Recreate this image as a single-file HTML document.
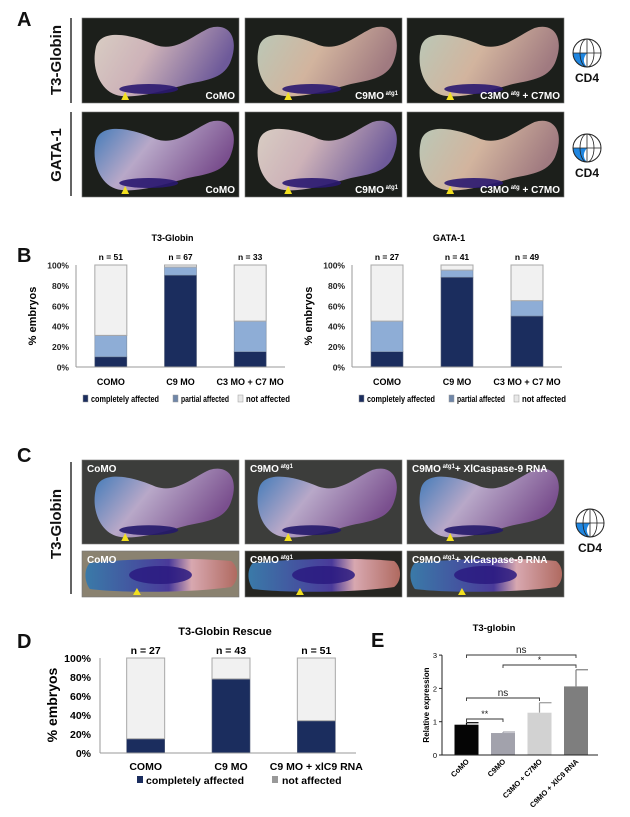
<!DOCTYPE html>
<html><head><meta charset="utf-8">
<style>
body{margin:0;background:#fff;}
svg{display:block;font-family:"Liberation Sans",Arial,sans-serif;}
</style></head>
<body>
<svg id="fig" width="630" height="817" viewBox="0 0 630 817" xmlns="http://www.w3.org/2000/svg">
<defs>
 <linearGradient id="embA" x1="0" y1="0" x2="1" y2="0.3">
  <stop offset="0" stop-color="#d9cfc4"/><stop offset="0.45" stop-color="#cdb2b8"/><stop offset="1" stop-color="#6e5a9a"/>
 </linearGradient>
 <linearGradient id="embB" x1="0" y1="0" x2="1" y2="0.3">
  <stop offset="0" stop-color="#b9c9b8"/><stop offset="0.5" stop-color="#d2b49e"/><stop offset="1" stop-color="#a07a80"/>
 </linearGradient>
 <linearGradient id="embC" x1="0" y1="0" x2="1" y2="0.4">
  <stop offset="0" stop-color="#3b78b8"/><stop offset="0.45" stop-color="#b8a8c8"/><stop offset="1" stop-color="#7a4f8e"/>
 </linearGradient>
 <linearGradient id="embD" x1="0" y1="0" x2="1" y2="0">
  <stop offset="0" stop-color="#3a7aa8"/><stop offset="0.55" stop-color="#4a3a9a"/><stop offset="0.7" stop-color="#d8a8b0"/><stop offset="1" stop-color="#b06a60"/>
 </linearGradient>
</defs>
<g id="panelA"></g>
<g id="panelB"></g>
<g id="panelC"></g>
<g id="panelD"></g>
<g id="panelE"></g>
</svg>
<script>
// ---- Panel B data ----
const bCategories = ["COMO", "C9 MO", "C3 MO + C7 MO"];
const bT3Complete = [10, 90, 15];
const bT3Partial = [21, 8, 30];
const bT3N = ["n = 51", "n = 67", "n = 33"];
const bGataComplete = [15, 88, 50];
const bGataPartial = [30, 7, 15];
const bGataN = ["n = 27", "n = 41", "n = 49"];
const pctTicks = ["0%", "20%", "40%", "60%", "80%", "100%"];
// ---- Panel D data ----
const dCategories = ["COMO", "C9 MO", "C9 MO + xlC9 RNA"];
const dComplete = [15, 78, 34];
const dN = ["n = 27", "n = 43", "n = 51"];
// ---- Panel E data ----
const eCategories = ["CoMO", "C9MO", "C3MO + C7MO", "C9MO + XlC9 RNA"];
const eValues = [0.91, 0.66, 1.27, 2.06];
const eErrors = [0.06, 0.03, 0.30, 0.50];
const eTicks = [0, 1, 2, 3];

const NS = "http://www.w3.org/2000/svg";
function mk(parent, tag, attrs, text){
  const e = document.createElementNS(NS, tag);
  for (const k in attrs) e.setAttribute(k, attrs[k]);
  if (text !== undefined) e.textContent = text;
  parent.appendChild(e);
  return e;
}
const A = document.getElementById('panelA');
const B = document.getElementById('panelB');
const C = document.getElementById('panelC');
const D = document.getElementById('panelD');
const E = document.getElementById('panelE');

function letter(g, x, y, t){
  const el = mk(g, 'text', {x:x, y:y, 'font-size':20, 'font-weight':'bold', fill:'#111'}, t);
  
  
}
function vlabel(g, x, y, t){
  const el = mk(g, 'text', {x:x, y:y, 'font-size':15, 'font-weight':'bold', fill:'#111', 'text-anchor':'middle', transform:'rotate(-90 '+x+' '+y+')'}, t);
  
  
}
function globe(g, cx, cy, r, ty){
  const gg = mk(g, 'g', {});
  
  
  mk(gg, 'path', {d:'M'+cx+','+cy+' L'+(cx-r)+','+cy+' A'+r+','+r+' 0 0,0 '+cx+','+(cy+r)+' Z', fill:'#1f86e0'});
  mk(gg, 'path', {d:'M'+cx+','+cy+' Q'+(cx-r*0.45)+','+(cy+r*0.55)+' '+cx+','+(cy+r)+' Z', fill:'#fff'});
  mk(gg, 'circle', {cx:cx, cy:cy, r:r, fill:'none', stroke:'#222', 'stroke-width':1});
  mk(gg, 'ellipse', {cx:cx, cy:cy, rx:r*0.5, ry:r, fill:'none', stroke:'#222', 'stroke-width':0.8});
  mk(gg, 'line', {x1:cx, y1:cy-r, x2:cx, y2:cy+r, stroke:'#222', 'stroke-width':0.8});
  mk(gg, 'line', {x1:cx-r, y1:cy, x2:cx+r, y2:cy, stroke:'#222', 'stroke-width':0.8});
  const t = mk(g, 'text', {x:cx, y:ty, 'font-size':12, 'font-weight':'bold', 'text-anchor':'middle', fill:'#111'}, 'CD4');
  
  
}
function photo(g, x, y, w, h, bg, grad, band, label, sup, tail, labelTop, flat){
  const pg = mk(g, 'g', {transform:'translate('+x+','+y+')'});
  
  
  mk(pg, 'rect', {x:0, y:0, width:w, height:h, fill:bg, stroke:'#777', 'stroke-width':0.6});
  const sx = w/160, sy = h/85;
  if (!flat){
    const eg = mk(pg, 'g', {transform:'scale('+sx+','+sy+')'});
    mk(eg, 'path', {d:'M14,30 C18,10 50,16 75,27 C96,34 112,18 130,10 C150,4 160,20 152,42 C146,60 128,62 108,66 C85,72 60,80 40,78 C20,76 9,52 14,30 Z', fill:'url(#'+grad+')'});
    mk(eg, 'ellipse', {cx:68, cy:71, rx:30, ry:5, fill:band, opacity:0.9});
    mk(eg, 'path', {d:'M40,82 L44,74 L48,82 Z', fill:'#f2e020'});
  } else {
    const eg = mk(pg, 'g', {transform:'scale('+sx+',1)'});
    mk(eg, 'path', {d:'M8,12 C40,8 110,6 152,10 C160,16 160,30 152,36 C110,42 40,42 8,38 C2,30 2,18 8,12 Z', fill:'url(#'+grad+')'});
    mk(eg, 'ellipse', {cx:80, cy:24, rx:32, ry:9, fill:band, opacity:0.85});
    mk(eg, 'path', {d:'M52,44 L56,37 L60,44 Z', fill:'#f2e020'});
  }
  const ty = labelTop ? 12 : h-4;
  const tx = labelTop ? 5 : w-4;
  const t = mk(pg, 'text', {x:tx, y:ty, 'font-size':10, 'font-weight':'bold', fill:'#fff', 'text-anchor': labelTop ? 'start' : 'end'});
  
  
  mk(t, 'tspan', {}, label);
  if (sup){ mk(t, 'tspan', {'font-size':6, dy:-4}, ' ' + sup); }
  if (tail){ mk(t, 'tspan', {dy: sup ? 4 : 0}, tail); }
}

// ---- Panel A ----
letter(A, 17, 26, 'A');
mk(A, 'line', {x1:71, y1:18, x2:71, y2:103, stroke:'#111', 'stroke-width':1.3});
mk(A, 'line', {x1:71, y1:112, x2:71, y2:196, stroke:'#111', 'stroke-width':1.3});
vlabel(A, 61, 60, 'T3-Globin');
vlabel(A, 61, 155, 'GATA-1');
const colX = [82, 245, 407];
photo(A, colX[0], 18, 157, 85, '#1c1f1b', 'embA', '#2a1870', 'CoMO');
photo(A, colX[1], 18, 157, 85, '#1c1f1b', 'embB', '#2a1870', 'C9MO', 'atg1');
photo(A, colX[2], 18, 157, 85, '#1c1f1b', 'embB', '#2a1870', 'C3MO', 'atg', ' + C7MO');
photo(A, colX[0], 112, 157, 85, '#1c1f1b', 'embC', '#2a1870', 'CoMO');
photo(A, colX[1], 112, 157, 85, '#1c1f1b', 'embA', '#2a1870', 'C9MO', 'atg1');
photo(A, colX[2], 112, 157, 85, '#1c1f1b', 'embB', '#2a1870', 'C3MO', 'atg', ' + C7MO');
globe(A, 587, 53, 14, 82);
globe(A, 587, 148, 14, 177);

// ---- Panel B ----
letter(B, 17, 262, 'B');
function stackChart(g, left, right, y0, y100, cats, comp, part, nLabels, title, name){
  const cg = mk(g, 'g', {});
  
  
  const yS = v => y0 - (y0 - y100) * v / 100;
  const band = (right - left) / cats.length;
  const xC = i => left + band * (i + 0.5);
  const bw = 32;
  const tt = mk(cg, 'text', {x:(left+right)/2 - 8, y:241, 'font-size':9, 'font-weight':'bold', 'text-anchor':'middle'}, title);
  
  
  pctTicks.forEach((t, i) => {
    const tl = mk(cg, 'text', {x:left-7, y:yS(i*20)+3.5, 'font-size':8.5, 'font-weight':'bold', 'text-anchor':'end', fill:'#222'}, t);
    
    
  });
  const yt = mk(cg, 'text', {x:left-40, y:(y0+y100)/2, 'font-size':11, 'font-weight':'bold', 'text-anchor':'middle', transform:'rotate(-90 '+(left-40)+' '+((y0+y100)/2)+')'}, '% embryos');
  
  
  cats.forEach((c, i) => {
    const x = xC(i) - bw/2;
    const r1 = mk(cg, 'rect', {x:x, y:yS(comp[i]), width:bw, height:y0 - yS(comp[i]), fill:'#1b2d5e', stroke:'#55607a', 'stroke-width':0.6});
    
    
    const r2 = mk(cg, 'rect', {x:x, y:yS(comp[i]+part[i]), width:bw, height:yS(comp[i]) - yS(comp[i]+part[i]), fill:'#8eadd6', stroke:'#7a8aa0', 'stroke-width':0.6});
    
    
    const r3 = mk(cg, 'rect', {x:x, y:yS(100), width:bw, height:yS(comp[i]+part[i]) - yS(100), fill:'#f1f1f1', stroke:'#a8a8a8', 'stroke-width':1});
    
    
    const nl = mk(cg, 'text', {x:xC(i), y:y100-5, 'font-size':8.5, 'font-weight':'bold', 'text-anchor':'middle'}, nLabels[i]);
    
    
    const cl = mk(cg, 'text', {x:xC(i), y:y0+18, 'font-size':9, 'font-weight':'bold', 'text-anchor':'middle'}, c);
    
    
  });
  mk(cg, 'line', {x1:left, y1:y100, x2:left, y2:y0, stroke:'#999', 'stroke-width':1});
  mk(cg, 'line', {x1:left, y1:y0, x2:right, y2:y0, stroke:'#999', 'stroke-width':1});
  const lg = mk(cg, 'g', {});
  
  
  const items = [['completely affected', '#1b2d5e', 7, 68], ['partial affected', '#6f86a8', 97, 48], ['not affected', '#e8e8e8', 162, 44]];
  items.forEach(it => {
    mk(lg, 'rect', {x:left+it[2], y:y0+28, width:5, height:7, fill:it[1], stroke:'#999', 'stroke-width':0.5});
    const lt = mk(lg, 'text', {x:left+it[2]+8, y:y0+35, 'font-size':9.5, 'font-weight':'bold', textLength:it[3], lengthAdjust:'spacingAndGlyphs'}, it[0]);
    
    
  });
}
stackChart(B, 76, 285, 367, 265, bCategories, bT3Complete, bT3Partial, bT3N, 'T3-Globin', 'chart-b-t3-globin');
stackChart(B, 352, 562, 367, 265, bCategories, bGataComplete, bGataPartial, bGataN, 'GATA-1', 'chart-b-gata-1');

// ---- Panel C ----
letter(C, 17, 462, 'C');
mk(C, 'line', {x1:71, y1:462, x2:71, y2:594, stroke:'#111', 'stroke-width':1.3});
vlabel(C, 61, 524, 'T3-Globin');
photo(C, colX[0], 460, 157, 84, '#3c3d3b', 'embC', '#24186a', 'CoMO', null, null, true);
photo(C, colX[1], 460, 157, 84, '#3c3d3b', 'embC', '#24186a', 'C9MO', 'atg1', null, true);
photo(C, colX[2], 460, 157, 84, '#3c3d3b', 'embC', '#24186a', 'C9MO', 'atg1', '+ XlCaspase-9 RNA', true);
photo(C, colX[0], 551, 157, 46, '#8a8270', 'embD', '#2a1a80', 'CoMO', null, null, true, true);
photo(C, colX[1], 551, 157, 46, '#262622', 'embD', '#2a1a80', 'C9MO', 'atg1', null, true, true);
photo(C, colX[2], 551, 157, 46, '#3a3a36', 'embD', '#2a1a80', 'C9MO', 'atg1', '+ XlCaspase-9 RNA', true, true);
globe(C, 590, 523, 14, 552);

// ---- Panel D ----
letter(D, 17, 648, 'D');
(function(){
  const left = 100, right = 356, y0 = 753, y100 = 658;
  const cg = mk(D, 'g', {});
  
  
  const yS = v => y0 - (y0 - y100) * v / 100;
  const band = (right - left) / dCategories.length;
  const xC = i => left + 3 + band * (i + 0.5);
  const bw = 38;
  const tt = mk(cg, 'text', {x:225, y:635, 'font-size':11, 'font-weight':'bold', 'text-anchor':'middle'}, 'T3-Globin Rescue');
  
  
  pctTicks.forEach((t, i) => {
    const tl = mk(cg, 'text', {x:left-9, y:yS(i*20)+4, 'font-size':10.5, 'font-weight':'bold', 'text-anchor':'end'}, t);
    
    
  });
  const yt = mk(cg, 'text', {x:57, y:705, 'font-size':14, 'font-weight':'bold', 'text-anchor':'middle', transform:'rotate(-90 57 705)'}, '% embryos');
  
  
  dCategories.forEach((c, i) => {
    const x = xC(i) - bw/2;
    const r1 = mk(cg, 'rect', {x:x, y:yS(dComplete[i]), width:bw, height:y0 - yS(dComplete[i]), fill:'#1b2d5e', stroke:'#55607a', 'stroke-width':0.6});
    
    
    const r3 = mk(cg, 'rect', {x:x, y:yS(100), width:bw, height:yS(dComplete[i]) - yS(100), fill:'#f1f1f1', stroke:'#a8a8a8', 'stroke-width':1});
    
    
    const nl = mk(cg, 'text', {x:xC(i), y:y100-4, 'font-size':10.5, 'font-weight':'bold', 'text-anchor':'middle'}, dN[i]);
    
    
    const cl = mk(cg, 'text', {x:xC(i), y:y0+17, 'font-size':10.5, 'font-weight':'bold', 'text-anchor':'middle'}, c);
    
    
  });
  mk(cg, 'line', {x1:left, y1:y100, x2:left, y2:y0, stroke:'#999', 'stroke-width':1});
  mk(cg, 'line', {x1:left, y1:y0, x2:right, y2:y0, stroke:'#999', 'stroke-width':1});
  mk(cg, 'rect', {x:137, y:776, width:6, height:7, fill:'#1b2d5e'});
  const l1 = mk(cg, 'text', {x:146, y:784, 'font-size':10.5, 'font-weight':'bold'}, 'completely affected');
  
  
  mk(cg, 'rect', {x:272, y:776, width:6, height:7, fill:'#999'});
  const l2 = mk(cg, 'text', {x:282, y:784, 'font-size':10.5, 'font-weight':'bold'}, 'not affected');
  
  
})();

// ---- Panel E ----
letter(E, 371, 647, 'E');
(function(){
  const axX = 442, axEnd = 598, y0 = 755, unit = 33.3;
  const yS = v => y0 - v * unit;
  const xC = i => 466.5 + i * 36.5;
  const bw = 24;
  const colors = ['#050505', '#a2a2ac', '#d2d2d2', '#7e7e7e'];
  const cg = mk(E, 'g', {});
  
  
  const tt = mk(cg, 'text', {x:494, y:631, 'font-size':9.5, 'font-weight':'bold', 'text-anchor':'middle'}, 'T3-globin');
  
  
  eTicks.forEach(t => {
    mk(cg, 'line', {x1:axX-3, y1:yS(t), x2:axX, y2:yS(t), stroke:'#222', 'stroke-width':1});
    const tl = mk(cg, 'text', {x:axX-5, y:yS(t)+3, 'font-size':7.5, 'text-anchor':'end'}, String(t));
    
    
  });
  const yt = mk(cg, 'text', {x:429, y:705, 'font-size':8, 'font-weight':'bold', 'text-anchor':'middle', transform:'rotate(-90 429 705)'}, 'Relative expression');
  
  
  eCategories.forEach((c, i) => {
    const top = yS(eValues[i] + eErrors[i]);
    const sc = colors[i] === '#d2d2d2' ? '#999' : colors[i];
    mk(cg, 'line', {x1:xC(i), y1:top, x2:xC(i), y2:yS(eValues[i]), stroke:sc, 'stroke-width':1.2});
    mk(cg, 'line', {x1:xC(i), y1:top, x2:xC(i)+bw/2, y2:top, stroke:sc, 'stroke-width':1.2});
    const r = mk(cg, 'rect', {x:xC(i)-bw/2, y:yS(eValues[i]), width:bw, height:y0 - yS(eValues[i]), fill:colors[i]});
    
    
    const lx = xC(i) + 3, ly = y0 + 7;
    const cl = mk(cg, 'text', {x:lx, y:ly, 'font-size':7.5, 'font-weight':'bold', 'text-anchor':'end', transform:'rotate(-45 '+lx+' '+ly+')'}, c);
    
    
  });
  mk(cg, 'line', {x1:axX, y1:yS(3), x2:axX, y2:y0, stroke:'#222', 'stroke-width':1});
  mk(cg, 'line', {x1:axX, y1:y0, x2:axEnd, y2:y0, stroke:'#222', 'stroke-width':1});
  function bracket(i, j, y, label){
    const x1 = xC(i), x2 = xC(j);
    const p = mk(cg, 'path', {d:'M'+x1+','+(y+3)+' L'+x1+','+y+' L'+x2+','+y+' L'+x2+','+(y+3), fill:'none', stroke:'#333', 'stroke-width':0.9});
    
    
    const t = mk(cg, 'text', {x:(x1+x2)/2, y:y-2, 'font-size':label === 'ns' ? 10 : 9, 'text-anchor':'middle', fill:'#222'}, label);
    
    
  }
  bracket(0, 3, 655, 'ns');
  bracket(1, 3, 665, '*');
  bracket(0, 2, 698, 'ns');
  bracket(0, 1, 719, '**');
})();
</script>
</body></html>
